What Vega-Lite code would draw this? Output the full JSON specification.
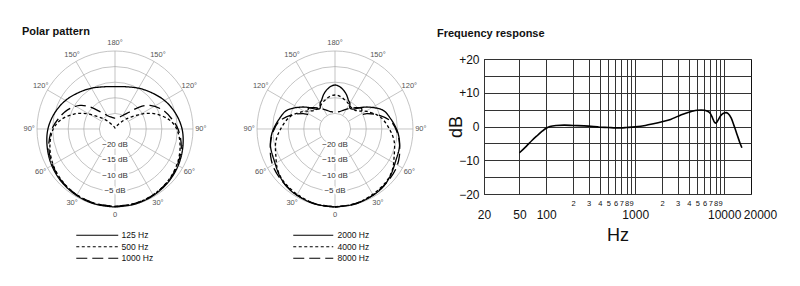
{
"$schema":"https://vega.github.io/schema/vega-lite/v6.json",
"background":"white",
"padding":{"left":22,"top":26,"right":5,"bottom":5},
"config":{"font":"Liberation Sans","view":{"stroke":null}},
"datasets":{
"rings":[{"db":0},{"db":-5},{"db":-10},{"db":-15},{"db":-20}],
"spokes":[{"a":0},{"a":30},{"a":60},{"a":90},{"a":120},{"a":150},{"a":180},{"a":210},{"a":240},{"a":270},{"a":300},{"a":330}],
"alabels":[{"a":0,"t":"0"},{"a":30,"t":"30°"},{"a":60,"t":"60°"},{"a":90,"t":"90°"},{"a":120,"t":"120°"},{"a":150,"t":"150°"},{"a":180,"t":"180°"},{"a":210,"t":"150°"},{"a":240,"t":"120°"},{"a":270,"t":"90°"},{"a":300,"t":"60°"},{"a":330,"t":"30°"}],
"dblabels":[{"db":-20,"t":"−20 dB"},{"db":-15,"t":"−15 dB"},{"db":-10,"t":"−10 dB"},{"db":-5,"t":"−5 dB"}],
"p1":[
{"f":"125 Hz","a":0,"db":0},{"f":"125 Hz","a":15,"db":-0.1},{"f":"125 Hz","a":30,"db":-0.4},{"f":"125 Hz","a":45,"db":-0.9},{"f":"125 Hz","a":60,"db":-1.6},{"f":"125 Hz","a":75,"db":-2.5},{"f":"125 Hz","a":90,"db":-3.5},{"f":"125 Hz","a":105,"db":-5},{"f":"125 Hz","a":120,"db":-6.7},{"f":"125 Hz","a":135,"db":-8.5},{"f":"125 Hz","a":150,"db":-9.9},{"f":"125 Hz","a":165,"db":-11},{"f":"125 Hz","a":180,"db":-11.4},{"f":"125 Hz","a":195,"db":-11},{"f":"125 Hz","a":210,"db":-9.9},{"f":"125 Hz","a":225,"db":-8.5},{"f":"125 Hz","a":240,"db":-6.7},{"f":"125 Hz","a":255,"db":-5},{"f":"125 Hz","a":270,"db":-3.5},{"f":"125 Hz","a":285,"db":-2.5},{"f":"125 Hz","a":300,"db":-1.6},{"f":"125 Hz","a":315,"db":-0.9},{"f":"125 Hz","a":330,"db":-0.4},{"f":"125 Hz","a":345,"db":-0.1},{"f":"125 Hz","a":360,"db":0},
{"f":"500 Hz","a":0,"db":-0.2},{"f":"500 Hz","a":15,"db":-0.3},{"f":"500 Hz","a":30,"db":-0.6},{"f":"500 Hz","a":45,"db":-1.2},{"f":"500 Hz","a":60,"db":-2.1},{"f":"500 Hz","a":75,"db":-3.4},{"f":"500 Hz","a":90,"db":-5.2},{"f":"500 Hz","a":100,"db":-7.5},{"f":"500 Hz","a":110,"db":-11},{"f":"500 Hz","a":118,"db":-14.5},{"f":"500 Hz","a":125,"db":-18},{"f":"500 Hz","a":133,"db":-20.5},{"f":"500 Hz","a":140,"db":-22.5},{"f":"500 Hz","a":150,"db":-23.8},{"f":"500 Hz","a":165,"db":-24.4},{"f":"500 Hz","a":180,"db":-24.7},{"f":"500 Hz","a":195,"db":-24.4},{"f":"500 Hz","a":210,"db":-23.8},{"f":"500 Hz","a":220,"db":-22.5},{"f":"500 Hz","a":227,"db":-20.5},{"f":"500 Hz","a":235,"db":-18},{"f":"500 Hz","a":242,"db":-14.5},{"f":"500 Hz","a":250,"db":-11},{"f":"500 Hz","a":260,"db":-7.5},{"f":"500 Hz","a":270,"db":-5.2},{"f":"500 Hz","a":285,"db":-3.4},{"f":"500 Hz","a":300,"db":-2.1},{"f":"500 Hz","a":315,"db":-1.2},{"f":"500 Hz","a":330,"db":-0.6},{"f":"500 Hz","a":345,"db":-0.3},{"f":"500 Hz","a":360,"db":-0.2},
{"f":"1000 Hz","a":0,"db":-0.2},{"f":"1000 Hz","a":15,"db":-0.3},{"f":"1000 Hz","a":30,"db":-0.6},{"f":"1000 Hz","a":45,"db":-1.1},{"f":"1000 Hz","a":60,"db":-1.9},{"f":"1000 Hz","a":75,"db":-3.0},{"f":"1000 Hz","a":90,"db":-4.8},{"f":"1000 Hz","a":100,"db":-6.5},{"f":"1000 Hz","a":112,"db":-8.6},{"f":"1000 Hz","a":124,"db":-11.5},{"f":"1000 Hz","a":132,"db":-14.5},{"f":"1000 Hz","a":140,"db":-18},{"f":"1000 Hz","a":150,"db":-20},{"f":"1000 Hz","a":160,"db":-20.9},{"f":"1000 Hz","a":170,"db":-21.3},{"f":"1000 Hz","a":180,"db":-21.5},{"f":"1000 Hz","a":190,"db":-21.3},{"f":"1000 Hz","a":200,"db":-20.9},{"f":"1000 Hz","a":210,"db":-20},{"f":"1000 Hz","a":220,"db":-18},{"f":"1000 Hz","a":228,"db":-14.5},{"f":"1000 Hz","a":236,"db":-11.5},{"f":"1000 Hz","a":248,"db":-8.6},{"f":"1000 Hz","a":260,"db":-6.5},{"f":"1000 Hz","a":270,"db":-4.8},{"f":"1000 Hz","a":285,"db":-3.0},{"f":"1000 Hz","a":300,"db":-1.9},{"f":"1000 Hz","a":315,"db":-1.1},{"f":"1000 Hz","a":330,"db":-0.6},{"f":"1000 Hz","a":345,"db":-0.3},{"f":"1000 Hz","a":360,"db":-0.2}
],
"p2":[
{"f":"2000 Hz","a":0,"db":0},{"f":"2000 Hz","a":15,"db":-0.1},{"f":"2000 Hz","a":30,"db":-0.5},{"f":"2000 Hz","a":40,"db":-0.9},{"f":"2000 Hz","a":50,"db":-1.8},{"f":"2000 Hz","a":62,"db":-3.0},{"f":"2000 Hz","a":75,"db":-3.6},{"f":"2000 Hz","a":85,"db":-4.6},{"f":"2000 Hz","a":92,"db":-5.6},{"f":"2000 Hz","a":100,"db":-6.8},{"f":"2000 Hz","a":111,"db":-8.4},{"f":"2000 Hz","a":122,"db":-11.8},{"f":"2000 Hz","a":129,"db":-14},{"f":"2000 Hz","a":137,"db":-16.3},{"f":"2000 Hz","a":144,"db":-16.8},{"f":"2000 Hz","a":150,"db":-15.5},{"f":"2000 Hz","a":155,"db":-14.8},{"f":"2000 Hz","a":162,"db":-13.3},{"f":"2000 Hz","a":168,"db":-12.2},{"f":"2000 Hz","a":175,"db":-11.2},{"f":"2000 Hz","a":180,"db":-10.9},{"f":"2000 Hz","a":185,"db":-11.2},{"f":"2000 Hz","a":192,"db":-12.2},{"f":"2000 Hz","a":198,"db":-13.3},{"f":"2000 Hz","a":205,"db":-14.8},{"f":"2000 Hz","a":210,"db":-15.5},{"f":"2000 Hz","a":216,"db":-16.8},{"f":"2000 Hz","a":223,"db":-16.3},{"f":"2000 Hz","a":231,"db":-14},{"f":"2000 Hz","a":238,"db":-11.8},{"f":"2000 Hz","a":249,"db":-8.4},{"f":"2000 Hz","a":260,"db":-6.8},{"f":"2000 Hz","a":268,"db":-5.6},{"f":"2000 Hz","a":275,"db":-4.6},{"f":"2000 Hz","a":285,"db":-3.6},{"f":"2000 Hz","a":298,"db":-3.0},{"f":"2000 Hz","a":310,"db":-1.8},{"f":"2000 Hz","a":320,"db":-0.9},{"f":"2000 Hz","a":330,"db":-0.5},{"f":"2000 Hz","a":345,"db":-0.1},{"f":"2000 Hz","a":360,"db":0},
{"f":"4000 Hz","a":0,"db":-0.1},{"f":"4000 Hz","a":15,"db":-0.2},{"f":"4000 Hz","a":30,"db":-0.8},{"f":"4000 Hz","a":45,"db":-1.5},{"f":"4000 Hz","a":55,"db":-2.5},{"f":"4000 Hz","a":65,"db":-4.1},{"f":"4000 Hz","a":78,"db":-5.6},{"f":"4000 Hz","a":89,"db":-7.4},{"f":"4000 Hz","a":105,"db":-10},{"f":"4000 Hz","a":119,"db":-13.4},{"f":"4000 Hz","a":126,"db":-15.2},{"f":"4000 Hz","a":133,"db":-16.2},{"f":"4000 Hz","a":140,"db":-16.4},{"f":"4000 Hz","a":147,"db":-16.2},{"f":"4000 Hz","a":155,"db":-15.6},{"f":"4000 Hz","a":161,"db":-15.2},{"f":"4000 Hz","a":170,"db":-14.5},{"f":"4000 Hz","a":180,"db":-14.1},{"f":"4000 Hz","a":190,"db":-14.5},{"f":"4000 Hz","a":199,"db":-15.2},{"f":"4000 Hz","a":205,"db":-15.6},{"f":"4000 Hz","a":213,"db":-16.2},{"f":"4000 Hz","a":220,"db":-16.4},{"f":"4000 Hz","a":227,"db":-16.2},{"f":"4000 Hz","a":234,"db":-15.2},{"f":"4000 Hz","a":241,"db":-13.4},{"f":"4000 Hz","a":255,"db":-10},{"f":"4000 Hz","a":271,"db":-7.4},{"f":"4000 Hz","a":282,"db":-5.6},{"f":"4000 Hz","a":295,"db":-4.1},{"f":"4000 Hz","a":305,"db":-2.5},{"f":"4000 Hz","a":315,"db":-1.5},{"f":"4000 Hz","a":330,"db":-0.8},{"f":"4000 Hz","a":345,"db":-0.2},{"f":"4000 Hz","a":360,"db":-0.1},
{"f":"8000 Hz","a":0,"db":0},{"f":"8000 Hz","a":15,"db":-0.2},{"f":"8000 Hz","a":30,"db":-0.6},{"f":"8000 Hz","a":45,"db":-1.2},{"f":"8000 Hz","a":57,"db":-1.7},{"f":"8000 Hz","a":67,"db":-2.6},{"f":"8000 Hz","a":78,"db":-3.9},{"f":"8000 Hz","a":88,"db":-5.2},{"f":"8000 Hz","a":98,"db":-7},{"f":"8000 Hz","a":108,"db":-10.4},{"f":"8000 Hz","a":116,"db":-13.7},{"f":"8000 Hz","a":119,"db":-15.3},{"f":"8000 Hz","a":123,"db":-14.8},{"f":"8000 Hz","a":128,"db":-14.2},{"f":"8000 Hz","a":136,"db":-15.5},{"f":"8000 Hz","a":144,"db":-16.8},{"f":"8000 Hz","a":155,"db":-18.3},{"f":"8000 Hz","a":165,"db":-19.2},{"f":"8000 Hz","a":180,"db":-19.7},{"f":"8000 Hz","a":195,"db":-19.2},{"f":"8000 Hz","a":205,"db":-18.3},{"f":"8000 Hz","a":216,"db":-16.8},{"f":"8000 Hz","a":224,"db":-15.5},{"f":"8000 Hz","a":232,"db":-14.2},{"f":"8000 Hz","a":237,"db":-14.8},{"f":"8000 Hz","a":241,"db":-15.3},{"f":"8000 Hz","a":244,"db":-13.7},{"f":"8000 Hz","a":252,"db":-10.4},{"f":"8000 Hz","a":262,"db":-7},{"f":"8000 Hz","a":272,"db":-5.2},{"f":"8000 Hz","a":282,"db":-3.9},{"f":"8000 Hz","a":293,"db":-2.6},{"f":"8000 Hz","a":303,"db":-1.7},{"f":"8000 Hz","a":315,"db":-1.2},{"f":"8000 Hz","a":330,"db":-0.6},{"f":"8000 Hz","a":345,"db":-0.2},{"f":"8000 Hz","a":360,"db":0}
],
"fr":[{"hz":50,"db":-7.8},{"hz":60,"db":-5.8},{"hz":70,"db":-4.0},{"hz":80,"db":-2.6},{"hz":90,"db":-1.4},{"hz":100,"db":-0.5},{"hz":110,"db":0},{"hz":130,"db":0.3},{"hz":160,"db":0.4},{"hz":200,"db":0.3},{"hz":300,"db":0.1},{"hz":400,"db":-0.2},{"hz":500,"db":-0.3},{"hz":600,"db":-0.4},{"hz":700,"db":-0.4},{"hz":800,"db":-0.3},{"hz":1000,"db":-0.1},{"hz":1300,"db":0.3},{"hz":1600,"db":0.8},{"hz":2000,"db":1.4},{"hz":2500,"db":2.1},{"hz":3000,"db":3.0},{"hz":3500,"db":3.7},{"hz":4000,"db":4.2},{"hz":4500,"db":4.6},{"hz":5000,"db":4.8},{"hz":5500,"db":4.9},{"hz":6000,"db":4.8},{"hz":6500,"db":4.5},{"hz":7000,"db":3.8},{"hz":7400,"db":2.5},{"hz":7800,"db":1.2},{"hz":8100,"db":1.0},{"hz":8500,"db":1.8},{"hz":9000,"db":3.0},{"hz":9500,"db":3.7},{"hz":10000,"db":4.0},{"hz":10500,"db":4.1},{"hz":11000,"db":3.9},{"hz":12000,"db":2.5},{"hz":13000,"db":0},{"hz":14000,"db":-2.5},{"hz":15000,"db":-4.8},{"hz":15800,"db":-6.3}]
},
"hconcat":[
{
"width":156,"height":151,
"title":{"text":"Polar pattern","anchor":"start","frame":"group","dx":-15,"offset":-7,"fontSize":11,"fontWeight":"bold","baseline":"alphabetic","color":"#111"},
"layer":[
{"data":{"name":"rings"},"transform":[{"calculate":"datum.db+25","as":"r"},{"calculate":"0","as":"x"},{"calculate":"0","as":"y"}],
"mark":{"type":"point","shape":"circle","filled":false,"stroke":"#aaaaaa","strokeWidth":0.7,"opacity":1},
"encoding":{"x":{"field":"x","type":"quantitative","scale":{"domain":[-25,25],"nice":false,"zero":false},"axis":null},"y":{"field":"y","type":"quantitative","scale":{"domain":[-23.4,25],"nice":false,"zero":false},"axis":null},
"size":{"field":"r","type":"quantitative","scale":{"type":"pow","exponent":2,"domain":[0,25],"range":[0,24336]},"legend":null}}},
{"data":{"name":"spokes"},"transform":[{"calculate":"5*sin(datum.a*PI/180)","as":"x"},{"calculate":"-5*cos(datum.a*PI/180)","as":"y"},{"calculate":"25*sin(datum.a*PI/180)","as":"x2"},{"calculate":"-25*cos(datum.a*PI/180)","as":"y2"}],
"mark":{"type":"rule","stroke":"#aaaaaa","strokeWidth":0.7},
"encoding":{"x":{"field":"x","type":"quantitative","scale":{"domain":[-25,25],"nice":false,"zero":false},"axis":null},"y":{"field":"y","type":"quantitative","scale":{"domain":[-23.4,25],"nice":false,"zero":false},"axis":null},"x2":{"field":"x2"},"y2":{"field":"y2"}}},
{"data":{"name":"alabels"},"transform":[{"calculate":"27.5*sin(datum.a*PI/180)","as":"x"},{"calculate":"-27.5*cos(datum.a*PI/180)","as":"y"}],
"mark":{"type":"text","fontSize":7.5,"fill":"#555555","align":"center","baseline":"middle"},
"encoding":{"x":{"field":"x","type":"quantitative","scale":{"domain":[-25,25],"nice":false,"zero":false},"axis":null},"y":{"field":"y","type":"quantitative","scale":{"domain":[-23.4,25],"nice":false,"zero":false},"axis":null},"text":{"field":"t"}}},
{"data":{"name":"dblabels"},"transform":[{"calculate":"-(datum.db+25)","as":"y"},{"calculate":"0","as":"x"}],
"mark":{"type":"text","fontSize":8,"fill":"white","stroke":"white","strokeWidth":4,"align":"center","baseline":"middle"},
"encoding":{"x":{"field":"x","type":"quantitative","scale":{"domain":[-25,25],"nice":false,"zero":false},"axis":null},"y":{"field":"y","type":"quantitative","scale":{"domain":[-23.4,25],"nice":false,"zero":false},"axis":null},"text":{"field":"t"}}},
{"data":{"name":"dblabels"},"transform":[{"calculate":"-(datum.db+25)","as":"y"},{"calculate":"0","as":"x"}],
"mark":{"type":"text","fontSize":8,"fill":"#333333","align":"center","baseline":"middle"},
"encoding":{"x":{"field":"x","type":"quantitative","scale":{"domain":[-25,25],"nice":false,"zero":false},"axis":null},"y":{"field":"y","type":"quantitative","scale":{"domain":[-23.4,25],"nice":false,"zero":false},"axis":null},"text":{"field":"t"}}},
{"data":{"name":"p1"},"transform":[{"calculate":"(datum.db+25)*sin(datum.a*PI/180)","as":"x"},{"calculate":"-(datum.db+25)*cos(datum.a*PI/180)","as":"y"}],
"mark":{"type":"line","color":"black","strokeWidth":1.3,"interpolate":"catmull-rom"},
"encoding":{"x":{"field":"x","type":"quantitative","scale":{"domain":[-25,25],"nice":false,"zero":false},"axis":null},"y":{"field":"y","type":"quantitative","scale":{"domain":[-23.4,25],"nice":false,"zero":false},"axis":null},"order":{"field":"a","type":"quantitative"},
"strokeDash":{"field":"f","type":"nominal","scale":{"domain":["125 Hz","500 Hz","1000 Hz"],"range":[[1,0],[3,2.5],[11,5]]},
"legend":{"title":null,"orient":"none","legendX":56,"legendY":180,"symbolType":"M-10,0H10","symbolSize":17.6,"symbolStrokeWidth":1.2,"symbolStrokeColor":"#000000","symbolFillColor":"transparent","labelFontSize":8.5,"labelColor":"#111111","labelOffset":20,"rowPadding":2.5,"padding":0}}}}
]
},
{
"width":163,"height":151,
"layer":[
{"data":{"name":"rings"},"transform":[{"calculate":"datum.db+25","as":"r"},{"calculate":"0","as":"x"},{"calculate":"0","as":"y"}],
"mark":{"type":"point","shape":"circle","filled":false,"stroke":"#aaaaaa","strokeWidth":0.7,"opacity":1},
"encoding":{"x":{"field":"x","type":"quantitative","scale":{"domain":[-25,27.24],"nice":false,"zero":false},"axis":null},"y":{"field":"y","type":"quantitative","scale":{"domain":[-23.4,25],"nice":false,"zero":false},"axis":null},
"size":{"field":"r","type":"quantitative","scale":{"type":"pow","exponent":2,"domain":[0,25],"range":[0,24336]},"legend":null}}},
{"data":{"name":"spokes"},"transform":[{"calculate":"5*sin(datum.a*PI/180)","as":"x"},{"calculate":"-5*cos(datum.a*PI/180)","as":"y"},{"calculate":"25*sin(datum.a*PI/180)","as":"x2"},{"calculate":"-25*cos(datum.a*PI/180)","as":"y2"}],
"mark":{"type":"rule","stroke":"#aaaaaa","strokeWidth":0.7},
"encoding":{"x":{"field":"x","type":"quantitative","scale":{"domain":[-25,27.24],"nice":false,"zero":false},"axis":null},"y":{"field":"y","type":"quantitative","scale":{"domain":[-23.4,25],"nice":false,"zero":false},"axis":null},"x2":{"field":"x2"},"y2":{"field":"y2"}}},
{"data":{"name":"alabels"},"transform":[{"calculate":"27.5*sin(datum.a*PI/180)","as":"x"},{"calculate":"-27.5*cos(datum.a*PI/180)","as":"y"}],
"mark":{"type":"text","fontSize":7.5,"fill":"#555555","align":"center","baseline":"middle"},
"encoding":{"x":{"field":"x","type":"quantitative","scale":{"domain":[-25,27.24],"nice":false,"zero":false},"axis":null},"y":{"field":"y","type":"quantitative","scale":{"domain":[-23.4,25],"nice":false,"zero":false},"axis":null},"text":{"field":"t"}}},
{"data":{"name":"dblabels"},"transform":[{"calculate":"-(datum.db+25)","as":"y"},{"calculate":"0","as":"x"}],
"mark":{"type":"text","fontSize":8,"fill":"white","stroke":"white","strokeWidth":4,"align":"center","baseline":"middle"},
"encoding":{"x":{"field":"x","type":"quantitative","scale":{"domain":[-25,27.24],"nice":false,"zero":false},"axis":null},"y":{"field":"y","type":"quantitative","scale":{"domain":[-23.4,25],"nice":false,"zero":false},"axis":null},"text":{"field":"t"}}},
{"data":{"name":"dblabels"},"transform":[{"calculate":"-(datum.db+25)","as":"y"},{"calculate":"0","as":"x"}],
"mark":{"type":"text","fontSize":8,"fill":"#333333","align":"center","baseline":"middle"},
"encoding":{"x":{"field":"x","type":"quantitative","scale":{"domain":[-25,27.24],"nice":false,"zero":false},"axis":null},"y":{"field":"y","type":"quantitative","scale":{"domain":[-23.4,25],"nice":false,"zero":false},"axis":null},"text":{"field":"t"}}},
{"data":{"name":"p2"},"transform":[{"calculate":"(datum.db+25)*sin(datum.a*PI/180)","as":"x"},{"calculate":"-(datum.db+25)*cos(datum.a*PI/180)","as":"y"}],
"mark":{"type":"line","color":"black","strokeWidth":1.3,"interpolate":"catmull-rom"},
"encoding":{"x":{"field":"x","type":"quantitative","scale":{"domain":[-25,27.24],"nice":false,"zero":false},"axis":null},"y":{"field":"y","type":"quantitative","scale":{"domain":[-23.4,25],"nice":false,"zero":false},"axis":null},"order":{"field":"a","type":"quantitative"},
"strokeDash":{"field":"f","type":"nominal","scale":{"domain":["2000 Hz","4000 Hz","8000 Hz"],"range":[[1,0],[3,2.5],[11,5]]},
"legend":{"title":null,"orient":"none","legendX":52,"legendY":180,"symbolType":"M-10,0H10","symbolSize":16,"symbolStrokeWidth":1.2,"symbolStrokeColor":"#000000","symbolFillColor":"transparent","labelFontSize":8.5,"labelColor":"#111111","labelOffset":20,"rowPadding":2.5,"padding":0}}}}
]
},
{
"width":267,"height":135,
"view":{"stroke":"#111111","strokeWidth":1},
"title":{"text":"Frequency response","anchor":"start","frame":"group","dx":-47,"offset":5,"fontSize":11,"fontWeight":"bold","baseline":"alphabetic","color":"#111"},
"data":{"name":"fr"},
"encoding":{
"y":{"field":"db","type":"quantitative","scale":{"domain":[-20,20],"nice":false,"zero":false},
"axis":{"values":[-20,-15,-10,-5,0,5,10,15,20],"grid":true,"gridColor":"#333333","gridWidth":1,"ticks":false,"tickSize":0,"domain":false,
"labelExpr":"datum.value % 10 != 0 ? '' : (datum.value > 0 ? '+' + datum.value : (datum.value < 0 ? '−' + abs(datum.value) : '0'))",
"labelFontSize":12,"labelColor":"#111111","labelPadding":5,
"title":"dB","titleFontSize":18,"titleFontWeight":"normal","titleColor":"#111111","titleX":-23,"titleY":67.5,"titleAngle":-90,"titleAlign":"center","titleBaseline":"alphabetic"}}
},
"layer":[
{"mark":{"type":"line","color":"black","strokeWidth":1.6,"interpolate":"monotone"},
"encoding":{
"x":{"field":"hz","type":"quantitative","scale":{"type":"log","domain":[20,20000],"nice":false},
"axis":{"orient":"bottom","values":[20,50,100,200,300,400,500,600,700,800,900,1000,2000,3000,4000,5000,6000,7000,8000,9000,10000],"grid":true,"gridColor":"#333333","gridWidth":1,"ticks":false,"tickSize":0,"domain":false,
"labelExpr":"(datum.value==20||datum.value==50||datum.value==100||datum.value==1000||datum.value==10000) ? format(datum.value,'d') : ''",
"labelFontSize":12,"labelColor":"#111111","labelPadding":15,"labelBaseline":"top","labelOverlap":false,"labelFlush":false,
"title":"Hz","titleFontSize":18,"titleFontWeight":"normal","titleColor":"#111111","titleX":133.5,"titleY":46,"titleAlign":"center","titleBaseline":"alphabetic"}}
}},
{"mark":{"type":"line","opacity":0},
"encoding":{
"x":{"field":"hz","type":"quantitative","scale":{"type":"log","domain":[20,20000],"nice":false},
"axis":{"orient":"bottom","values":[200,300,400,500,600,700,800,900,2000,3000,4000,5000,6000,7000,8000,9000],"grid":false,"ticks":false,"tickSize":0,"domain":false,
"labelExpr":"substring(format(datum.value,'d'),0,1)","labelFontSize":7.5,"labelColor":"#111111","labelPadding":5,"labelBaseline":"top","labelOverlap":false,"labelFlush":false,"title":null}}
}},
{"mark":{"type":"line","opacity":0},
"encoding":{
"x":{"field":"hz","type":"quantitative","scale":{"type":"log","domain":[20,20000],"nice":false},
"axis":{"orient":"bottom","values":[20000],"grid":false,"ticks":false,"tickSize":0,"domain":false,
"labelExpr":"format(datum.value,'d')","labelFontSize":12,"labelColor":"#111111","labelPadding":15,"labelOffset":9,"labelBaseline":"top","labelOverlap":false,"labelFlush":false,"title":null}}
}}
],
"resolve":{"axis":{"x":"independent"}}
}
],
"spacing":64,
"bounds":"flush",
"center":true,
"resolve":{"scale":{"x":"independent","y":"independent","strokeDash":"independent"},"legend":{"strokeDash":"independent"}}
}
